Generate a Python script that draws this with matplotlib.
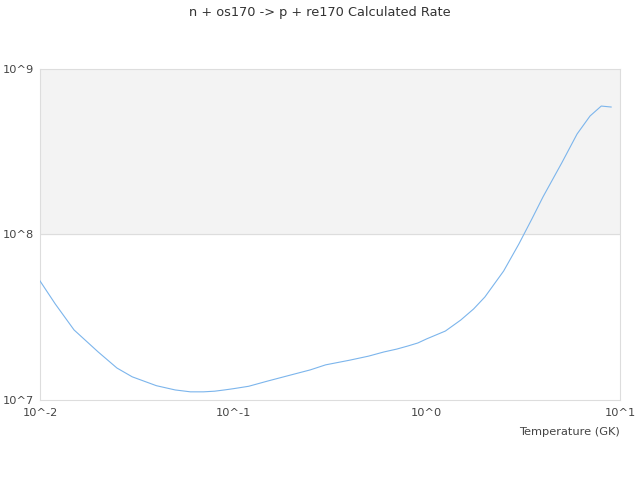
import numpy as np
import matplotlib.pyplot as plt
from matplotlib.ticker import FixedLocator, NullLocator

temps = [0.01, 0.012, 0.015, 0.02, 0.025, 0.03, 0.04, 0.05, 0.06, 0.07, 0.08, 0.09,
         0.1, 0.12, 0.15, 0.2, 0.25, 0.3, 0.4, 0.5, 0.6, 0.7, 0.8, 0.9,
         1.0, 1.25, 1.5, 1.75, 2.0, 2.5, 3.0, 3.5, 4.0, 5.0, 6.0, 7.0, 8.0, 9.0]
rates = [5.24e7, 3.80e7, 2.65e7, 1.95e7, 1.56e7, 1.38e7, 1.22e7, 1.15e7, 1.12e7, 1.12e7, 1.13e7, 1.15e7,
         1.17e7, 1.21e7, 1.30e7, 1.42e7, 1.52e7, 1.63e7, 1.74e7, 1.84e7, 1.95e7, 2.03e7, 2.12e7, 2.21e7,
         2.34e7, 2.61e7, 3.04e7, 3.55e7, 4.19e7, 6.01e7, 8.77e7, 1.24e8, 1.69e8, 2.71e8, 4.05e8, 5.20e8, 5.97e8, 5.89e8]

xticks = [0.01, 0.1, 1, 10]
xlabels = ["10^-2", "10^-1", "10^0", "10^1"]
yticks = [1e7, 1e8, 1e9]
ylabels = ["10^7", "10^8", "10^9"]

fig = plt.figure(figsize=(6.4, 4.8), dpi=100)
ax = fig.add_axes([0.0625, 0.1667, 0.90625, 0.6896])

ax.set_xscale("log")
ax.set_yscale("log")
ax.set_xlim(0.01, 10)
ax.set_ylim(1e7, 1e9)

# alternating band
ax.axhspan(1e8, 1e9, color="#f3f3f3", zorder=0)
ax.axhline(1e8, color="#dddddd", lw=0.8, zorder=1)

ax.plot(temps, rates, color="#7cb5ec", lw=0.8, zorder=3)

ax.xaxis.set_major_locator(FixedLocator(xticks))
ax.yaxis.set_major_locator(FixedLocator(yticks))
ax.xaxis.set_minor_locator(NullLocator())
ax.yaxis.set_minor_locator(NullLocator())
ax.set_xticklabels(xlabels)
ax.set_yticklabels(ylabels)
ax.tick_params(length=0, labelsize=8.2, labelcolor="#444444")
ax.tick_params(axis="x", pad=6)
ax.tick_params(axis="y", pad=4)

for s in ax.spines.values():
    s.set_color("#dddddd")
    s.set_linewidth(0.8)

ax.set_xlabel("Temperature (GK)", fontsize=8.2, color="#444444", loc="right", labelpad=6.5)
fig.suptitle("n + os170 -> p + re170 Calculated Rate", fontsize=9.3, color="#333333", y=0.988)

plt.savefig("out.png", dpi=100)
plt.close()
